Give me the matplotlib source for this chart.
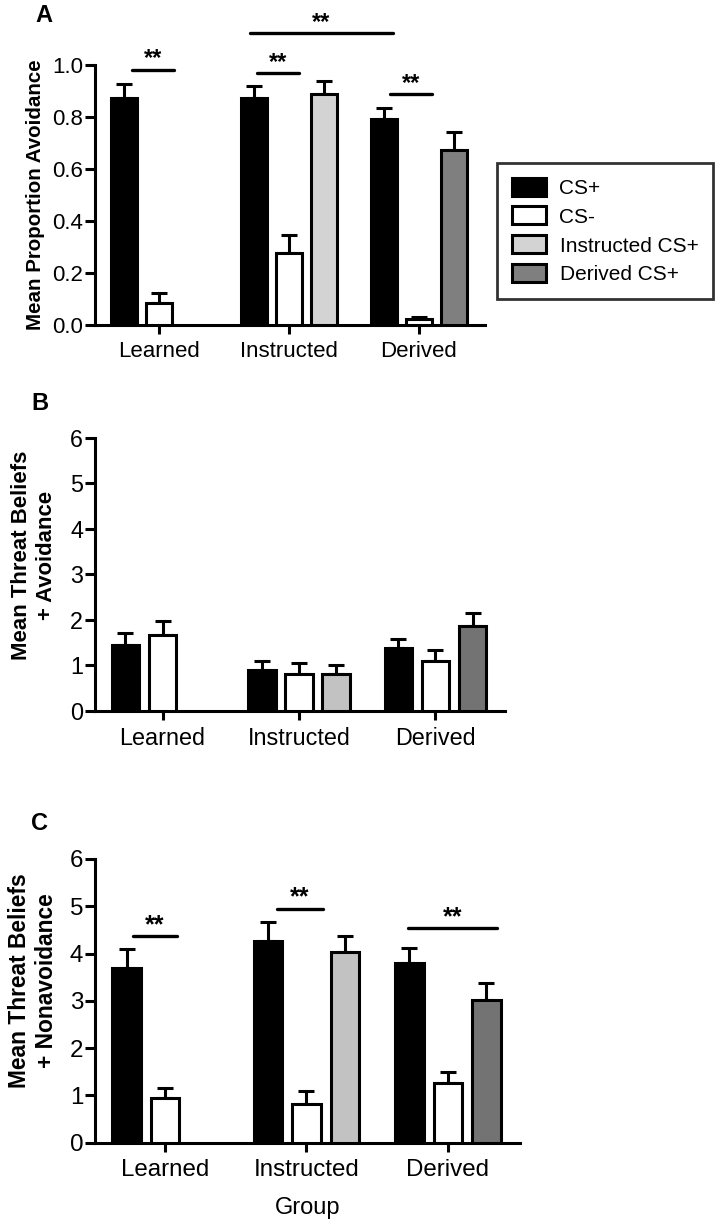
import matplotlib.pyplot as plt
import numpy as np

plt.rcParams['font.family'] = ['Liberation Sans', 'DejaVu Sans']

groups = ['Learned', 'Instructed', 'Derived']
legend_labels = ['CS+', 'CS-', 'Instructed CS+', 'Derived CS+']
colors_a = ['black', 'white', '#d3d3d3', '#7f7f7f']
colors_bc = ['black', 'white', '#c2c2c2', '#737373']

# panel A: mean proportion avoidance
a_cs_plus = [0.874, 0.872, 0.791]
a_cs_plus_sem = [0.053, 0.047, 0.042]
a_cs_minus = [0.085, 0.278, 0.022]
a_cs_minus_sem = [0.038, 0.068, 0.010]
a_instructed = 0.888
a_instructed_sem = 0.050
a_derived = 0.673
a_derived_sem = 0.071

# panel B: threat beliefs + avoidance
b_cs_plus = [1.44, 0.89, 1.37]
b_cs_plus_sem = [0.26, 0.21, 0.20]
b_cs_minus = [1.66, 0.81, 1.10]
b_cs_minus_sem = [0.31, 0.23, 0.23]
b_instructed = 0.81
b_instructed_sem = 0.19
b_derived = 1.87
b_derived_sem = 0.27

# panel C: threat beliefs + nonavoidance
c_cs_plus = [3.70, 4.26, 3.81]
c_cs_plus_sem = [0.39, 0.40, 0.31]
c_cs_minus = [0.95, 0.82, 1.27]
c_cs_minus_sem = [0.20, 0.28, 0.23]
c_instructed = 4.04
c_instructed_sem = 0.34
c_derived = 3.02
c_derived_sem = 0.36

# significance brackets: (x start, x end, y)
a_sig = [(-0.21, 0.11, 0.982), (0.75, 1.08, 0.970), (0.70, 1.80, 1.124), (1.78, 2.10, 0.887)]
c_sig = [(-0.23, 0.085, 4.37), (0.79, 1.115, 4.95), (1.72, 2.346, 4.53)]

LW = 2.2
off = 0.272
w = 0.2
x = np.arange(len(groups))


def draw_panel(ax, cs_plus, cs_plus_sem, cs_minus, cs_minus_sem, instr, instr_sem,
               der, der_sem, colors, ylim, yticks, yfmt, fs):
    bars = []
    for xs, vals, sems, col in [
        (x - off, cs_plus, cs_plus_sem, colors[0]),
        (x, cs_minus, cs_minus_sem, colors[1]),
        ([x[1] + off], [instr], [instr_sem], colors[2]),
        ([x[2] + off], [der], [der_sem], colors[3]),
    ]:
        b = ax.bar(xs, vals, width=w, color=col, edgecolor='black', linewidth=2.2, zorder=3)
        ax.errorbar(xs, vals, yerr=[np.zeros(len(vals)), sems], fmt='none', ecolor='black',
                    elinewidth=2.2, capsize=6, capthick=2.2, zorder=2)
        bars.append(b)
    ax.set_xlim(-0.495, 2.51)
    ax.set_ylim(*ylim)
    ax.set_yticks(yticks)
    ax.set_yticklabels([yfmt.format(t) for t in yticks])
    ax.set_xticks(x)
    ax.set_xticklabels(groups)
    for s in ['top', 'right']:
        ax.spines[s].set_visible(False)
    for s in ['left', 'bottom']:
        ax.spines[s].set_linewidth(LW)
    ax.tick_params(axis='y', length=7, width=LW, labelsize=fs, pad=1.5)
    ax.tick_params(axis='x', length=6.5, width=LW, labelsize=fs, pad=5)
    return bars


def draw_sig(ax, sigs, fs):
    for x0, x1, y in sigs:
        ax.plot([x0, x1], [y, y], color='black', lw=2.4, solid_capstyle='round', clip_on=False)
        ax.annotate('**', xy=((x0 + x1) / 2, y), xytext=(0, 3), textcoords='offset points',
                    ha='center', va='baseline', fontsize=fs, fontweight='bold', annotation_clip=False)


fig = plt.figure(figsize=(7.15, 12.28), dpi=100)
ax_a = fig.add_axes([0.1329, 0.7353, 0.5455, 0.2118])
ax_b = fig.add_axes([0.1329, 0.4213, 0.5734, 0.2223])
ax_c = fig.add_axes([0.1329, 0.0695, 0.5944, 0.2310])

bars = draw_panel(ax_a, a_cs_plus, a_cs_plus_sem, a_cs_minus, a_cs_minus_sem, a_instructed,
                  a_instructed_sem, a_derived, a_derived_sem, colors_a, (0, 1.0),
                  [0, 0.2, 0.4, 0.6, 0.8, 1.0], '{:.1f}', 16)
draw_panel(ax_b, b_cs_plus, b_cs_plus_sem, b_cs_minus, b_cs_minus_sem, b_instructed,
           b_instructed_sem, b_derived, b_derived_sem, colors_bc, (0, 6), range(7), '{:d}', 16.8)
draw_panel(ax_c, c_cs_plus, c_cs_plus_sem, c_cs_minus, c_cs_minus_sem, c_instructed,
           c_instructed_sem, c_derived, c_derived_sem, colors_bc, (0, 6), range(7), '{:d}', 17.4)

draw_sig(ax_a, a_sig, 17)
draw_sig(ax_c, c_sig, 18)

ax_a.set_ylabel('Mean Proportion Avoidance', fontsize=14.8, fontweight='bold', va='center')
ax_a.yaxis.set_label_coords(-0.152, 0.5)
ax_b.set_ylabel('Mean Threat Beliefs\n+ Avoidance', fontsize=15.9, fontweight='bold', va='center',
                linespacing=1.2)
ax_b.yaxis.set_label_coords(-0.149, 0.57)
ax_c.set_ylabel('Mean Threat Beliefs\n+ Nonavoidance', fontsize=16.4, fontweight='bold', va='center',
                linespacing=1.2)
ax_c.yaxis.set_label_coords(-0.146, 0.57)
ax_c.set_xlabel('Group', fontsize=17, labelpad=12)

fig.text(44 / 715, 1 - 15 / 1228, 'A', fontsize=17, fontweight='bold', ha='center', va='center')
fig.text(40 / 715, 1 - 403 / 1228, 'B', fontsize=17, fontweight='bold', ha='center', va='center')
fig.text(40 / 715, 1 - 823 / 1228, 'C', fontsize=17, fontweight='bold', ha='center', va='center')

leg = fig.legend([b[0] for b in bars], legend_labels, loc='upper left',
                 bbox_to_anchor=(497 / 715, 1 - 163 / 1228), borderaxespad=0, fontsize=15,
                 frameon=True, fancybox=False, edgecolor='black', handlelength=1.65,
                 handleheight=0.95, handletextpad=0.65, labelspacing=0.42, borderpad=0.7)
leg.get_frame().set_linewidth(2.0)

fig.savefig('out.png', dpi=100)
